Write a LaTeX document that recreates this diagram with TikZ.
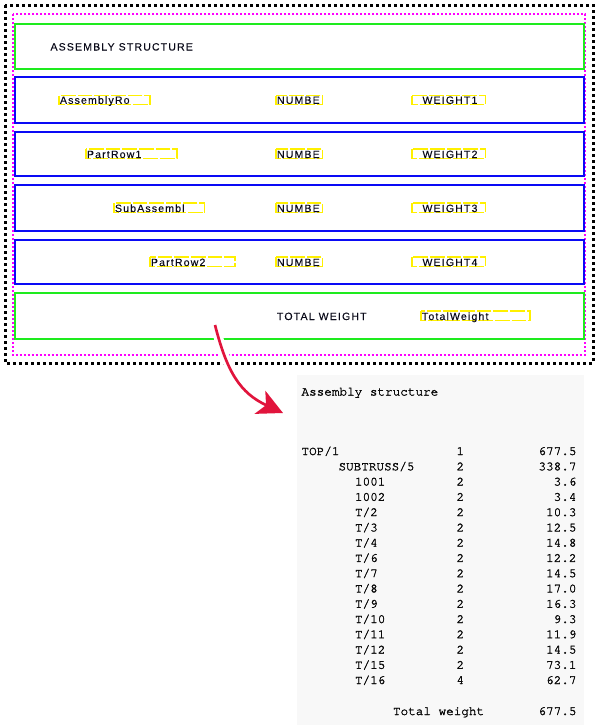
\documentclass[tikz,border=0pt]{standalone}
\usepackage{fontspec}
\usetikzlibrary{arrows.meta}
\newfontfamily\formfont{Liberation Sans}[LetterSpace=11, FakeBold=0.2]
\newfontfamily\listfont{TeX Gyre Cursor}[FakeBold=2]

\tikzset{every picture/.style={line width=0.75pt}}
\tikzset{
	outerframe/.style={draw={rgb, 255:red, 0; green, 0; blue, 0 }, line width=2.25pt, dash pattern=on 2.25pt off 2.25pt},
	pageframe/.style={draw={rgb, 255:red, 255; green, 0; blue, 255 }, line width=1.5pt, dash pattern=on 1.5pt off 1.5pt},
	headband/.style={draw={rgb, 255:red, 30; green, 235; blue, 30 }, line width=1.5pt},
	rowband/.style={draw={rgb, 255:red, 10; green, 10; blue, 245 }, line width=1.5pt},
	fieldbox/.style={draw={rgb, 255:red, 255; green, 240; blue, 0 }, line width=1pt, dash pattern=on 11pt off 1.5pt},
	formtext/.style={anchor=base west, inner sep=0pt, text={rgb, 255:red, 10; green, 10; blue, 25 }, font=\formfont\fontsize{7.9}{9}\selectfont},
	listtext/.style={anchor=base west, inner sep=0pt, text={rgb, 255:red, 10; green, 10; blue, 10 }, font=\listfont\fontsize{9.5}{11}\selectfont},
	listnum/.style={listtext, anchor=base east},
}

\begin{document}
\begin{tikzpicture}[x=0.75pt,y=0.75pt,yscale=-1,xscale=1]
	\useasboundingbox (0,0) rectangle (600,725);

	%Shape: Rectangle (report output panel)
	\fill [fill={rgb, 255:red, 248; green, 248; blue, 248 }] (297,375) rectangle (584,725) ;

	%Shape: Rectangle (frames)
	\draw [outerframe] (5,5) rectangle (593,363) ;
	\draw [pageframe] (12.5,14) rectangle (584.5,355) ;
	%Shape: Rectangle (bands)
	\draw [headband] (14.5,24) rectangle (583.5,69) ;
	\draw [rowband] (14.5,77) rectangle (583.5,123) ;
	\draw [rowband] (14.5,132) rectangle (583.5,176) ;
	\draw [rowband] (14.5,185) rectangle (583.5,231) ;
	\draw [rowband] (14.5,240) rectangle (583.5,284) ;
	\draw [headband] (14.5,293) rectangle (583.5,339) ;

	%Shape: Rectangle (fields)
	\draw [fieldbox] (59,95.5) rectangle (150,104.5) ;
	\draw [fieldbox] (276,95.5) rectangle (322.5,104.5) ;
	\draw [fieldbox] (412,95.5) rectangle (485.5,104.5) ;
	\draw [fieldbox] (86,149) rectangle (177,158.5) ;
	\draw [fieldbox] (276,149) rectangle (322.5,158.5) ;
	\draw [fieldbox] (412,149) rectangle (485.5,158.5) ;
	\draw [fieldbox] (114,203) rectangle (204.5,212.5) ;
	\draw [fieldbox] (276,203) rectangle (322.5,212.5) ;
	\draw [fieldbox] (412,203) rectangle (485.5,212.5) ;
	\draw [fieldbox] (150,257) rectangle (235,266.5) ;
	\draw [fieldbox] (276,257) rectangle (322.5,266.5) ;
	\draw [fieldbox] (412,257) rectangle (485.5,266.5) ;
	\draw [fieldbox] (421,311) rectangle (530,320.5) ;

	% Text Node
	\draw (50,50.5) node [formtext] (title) {ASSEMBLY STRUCTURE};
	% Text Node
	\draw (59.5,103.8) node [formtext] (rowname1) {AssemblyRo};
	\draw (276.5,103.8) node [formtext] (rownum1) {NUMBE};
	\draw (422,103.8) node [formtext] (rowwt1) {WEIGHT1};
	% Text Node
	\draw (86.5,158) node [formtext] (rowname2) {PartRow1};
	\draw (276.5,158) node [formtext] (rownum2) {NUMBE};
	\draw (422,158) node [formtext] (rowwt2) {WEIGHT2};
	% Text Node
	\draw (114.5,212) node [formtext] (rowname3) {SubAssembl};
	\draw (276.5,212) node [formtext] (rownum3) {NUMBE};
	\draw (422,212) node [formtext] (rowwt3) {WEIGHT3};
	% Text Node
	\draw (150.5,266) node [formtext] (rowname4) {PartRow2};
	\draw (276.5,266) node [formtext] (rownum4) {NUMBE};
	\draw (422,266) node [formtext] (rowwt4) {WEIGHT4};
	% Text Node
	\draw (276.5,320) node [formtext] (totallabel) {TOTAL WEIGHT};
	\draw (421.5,320) node [formtext] (totalfield) {TotalWeight};

	%Curve Lines (arrow to output)
	\coordinate (arrowtail) at (215,325) ;
	\coordinate (arrowtip) at (283,413) ;
	\draw [color=white, line width=7pt] (arrowtail) .. controls (227,372) and (240,393) .. (arrowtip) ;
	\draw [color={rgb, 255:red, 225; green, 20; blue, 60 }, line width=2pt, -{Stealth[length=19pt, width=19pt, inset=5pt]}] (arrowtail) .. controls (227,372) and (240,393) .. (arrowtip) ;

	% Text Node
	\draw (301,395.5) node [listtext] (outtitle) {Assembly structure};
	% Text Node
	\draw (301,455) node [listtext] (n1) {TOP/1};
	\draw (456,455) node [listtext] (q1) {1};
	\draw (577,455) node [listnum] (w1) {677.5};
	\draw (338,470.3) node [listtext] (n2) {SUBTRUSS/5};
	\draw (456,470.3) node [listtext] (q2) {2};
	\draw (577,470.3) node [listnum] (w2) {338.7};
	\draw (354.5,485.5) node [listtext] (n3) {1001};
	\draw (456,485.5) node [listtext] (q3) {2};
	\draw (577,485.5) node [listnum] (w3) {3.6};
	\draw (354.5,500.8) node [listtext] (n4) {1002};
	\draw (456,500.8) node [listtext] (q4) {2};
	\draw (577,500.8) node [listnum] (w4) {3.4};
	\draw (354.5,516.1) node [listtext] (n5) {T/2};
	\draw (456,516.1) node [listtext] (q5) {2};
	\draw (577,516.1) node [listnum] (w5) {10.3};
	\draw (354.5,531.4) node [listtext] (n6) {T/3};
	\draw (456,531.4) node [listtext] (q6) {2};
	\draw (577,531.4) node [listnum] (w6) {12.5};
	\draw (354.5,546.6) node [listtext] (n7) {T/4};
	\draw (456,546.6) node [listtext] (q7) {2};
	\draw (577,546.6) node [listnum] (w7) {14.8};
	\draw (354.5,561.9) node [listtext] (n8) {T/6};
	\draw (456,561.9) node [listtext] (q8) {2};
	\draw (577,561.9) node [listnum] (w8) {12.2};
	\draw (354.5,577.2) node [listtext] (n9) {T/7};
	\draw (456,577.2) node [listtext] (q9) {2};
	\draw (577,577.2) node [listnum] (w9) {14.5};
	\draw (354.5,592.4) node [listtext] (n10) {T/8};
	\draw (456,592.4) node [listtext] (q10) {2};
	\draw (577,592.4) node [listnum] (w10) {17.0};
	\draw (354.5,607.7) node [listtext] (n11) {T/9};
	\draw (456,607.7) node [listtext] (q11) {2};
	\draw (577,607.7) node [listnum] (w11) {16.3};
	\draw (354.5,623) node [listtext] (n12) {T/10};
	\draw (456,623) node [listtext] (q12) {2};
	\draw (577,623) node [listnum] (w12) {9.3};
	\draw (354.5,638.2) node [listtext] (n13) {T/11};
	\draw (456,638.2) node [listtext] (q13) {2};
	\draw (577,638.2) node [listnum] (w13) {11.9};
	\draw (354.5,653.5) node [listtext] (n14) {T/12};
	\draw (456,653.5) node [listtext] (q14) {2};
	\draw (577,653.5) node [listnum] (w14) {14.5};
	\draw (354.5,668.8) node [listtext] (n15) {T/15};
	\draw (456,668.8) node [listtext] (q15) {2};
	\draw (577,668.8) node [listnum] (w15) {73.1};
	\draw (354.5,684) node [listtext] (n16) {T/16};
	\draw (456,684) node [listtext] (q16) {4};
	\draw (577,684) node [listnum] (w16) {62.7};
	% Text Node
	\draw (392.5,715) node [listtext] (outtotal) {Total weight};
	\draw (577,715) node [listnum] (outtotalwt) {677.5};

\end{tikzpicture}
\end{document}
